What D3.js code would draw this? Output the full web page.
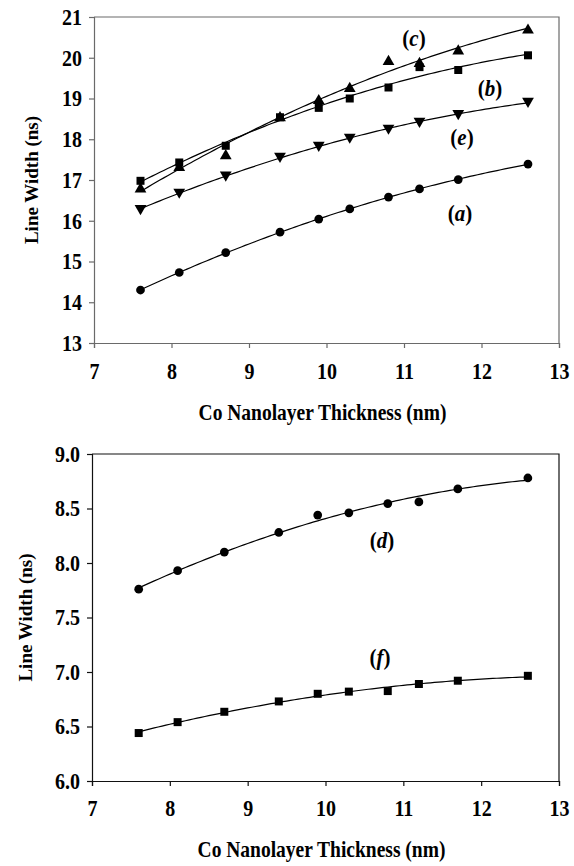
<!DOCTYPE html>
<html>
<head>
<meta charset="utf-8">
<script src="https://cdn.jsdelivr.net/npm/d3@7"></script>
<style>
  html, body { margin: 0; padding: 0; background: #fff; }
  svg { display: block; }
  svg text { font-family: "Liberation Serif", Tinos, "DejaVu Serif", "Noto Serif", FreeSerif, "Times New Roman", Times, serif !important; }
</style>
</head>
<body>
<svg id="chart" width="574" height="866"></svg>
<script>
// ---------------- data ----------------
const thickness = [7.6, 8.1, 8.7, 9.4, 9.9, 10.3, 10.8, 11.2, 11.7, 12.6];
const seriesA = [14.30, 14.73, 15.22, 15.72, 16.04, 16.29, 16.58, 16.78, 17.01, 17.39];
const seriesB = [16.98, 17.43, 17.84, 18.54, 18.77, 19.00, 19.27, 19.77, 19.70, 20.06];
const seriesC = [16.80, 17.33, 17.62, 18.55, 18.97, 19.27, 19.93, 19.88, 20.19, 20.70];
const seriesE = [16.28, 16.68, 17.10, 17.56, 17.83, 18.03, 18.25, 18.42, 18.61, 18.91];
const seriesD = [7.76, 7.93, 8.10, 8.28, 8.44, 8.46, 8.545, 8.56, 8.68, 8.78];
const seriesF = [6.44, 6.54, 6.635, 6.73, 6.80, 6.82, 6.825, 6.89, 6.92, 6.965];
const xTicks = [7, 8, 9, 10, 11, 12, 13];
const yTicksTop = [13, 14, 15, 16, 17, 18, 19, 20, 21];
const yTicksBottom = [6.0, 6.5, 7.0, 7.5, 8.0, 8.5, 9.0];
const xTitle = "Co Nanolayer Thickness (nm)";
const yTitle = "Line Width (ns)";

const svg = d3.select("#chart");
const FONT = '"Liberation Serif", Tinos, "DejaVu Serif", "Noto Serif", FreeSerif, "Times New Roman", Times, serif';
const TICK_FS = 20, TITLE_FS = 19.5, YTITLE_FS = 19, LABEL_FS = 21;
const STRETCH = 1.13;

// quadratic least squares fit
function quadFit(xs, ys) {
  let n = xs.length, s = [0,0,0,0,0], t = [0,0,0];
  for (let i = 0; i < n; i++) {
    let x = xs[i], y = ys[i];
    for (let k = 0; k < 5; k++) s[k] += Math.pow(x, k);
    for (let k = 0; k < 3; k++) t[k] += y * Math.pow(x, k);
  }
  const M = [[s[0], s[1], s[2], t[0]], [s[1], s[2], s[3], t[1]], [s[2], s[3], s[4], t[2]]];
  for (let i = 0; i < 3; i++) {
    for (let j = i + 1; j < 3; j++) {
      const f = M[j][i] / M[i][i];
      for (let k = i; k < 4; k++) M[j][k] -= f * M[i][k];
    }
  }
  const c = [0,0,0];
  for (let i = 2; i >= 0; i--) {
    let v = M[i][3];
    for (let k = i + 1; k < 3; k++) v -= M[i][k] * c[k];
    c[i] = v / M[i][i];
  }
  return x => c[0] + c[1] * x + c[2] * x * x;
}

function drawPanel(cfg) {
  const x = d3.scaleLinear().domain([7, 13]).range([cfg.left, cfg.right]);
  const y = d3.scaleLinear().domain(cfg.yDomain).range([cfg.bottom, cfg.top]);
  const g = svg.append("g").attr("font-family", FONT);

  // frame (top & right)
  g.append("path")
    .attr("d", `M${cfg.left},${cfg.top}H${cfg.right}V${cfg.bottom}`)
    .attr("fill", "none").attr("stroke", cfg.frameColor).attr("stroke-width", 1.2);

  // x axis
  const xa = g.append("g").attr("transform", `translate(0,${cfg.bottom})`)
    .call(d3.axisBottom(x).tickValues(xTicks).tickSize(5).tickPadding(0).tickFormat(d3.format("d")))
    .attr("font-family", FONT);
  xa.select(".domain").attr("stroke", cfg.frameColor).attr("stroke-width", 1.2);
  xa.selectAll(".tick line").attr("stroke", cfg.frameColor).attr("stroke-width", 1.2);
  xa.selectAll(".tick text")
    .attr("font-size", TICK_FS).attr("font-weight", "bold").attr("fill", "#000")
    .attr("y", 0).attr("dy", null)
    .attr("transform", `translate(0,${cfg.xLabelBase}) scale(1,${STRETCH})`);

  // y axis
  const ya = g.append("g").attr("transform", `translate(${cfg.left},0)`)
    .call(d3.axisLeft(y).tickValues(cfg.yTicks).tickSize(5).tickPadding(0).tickFormat(d3.format(cfg.yFormat)))
    .attr("font-family", FONT);
  ya.select(".domain").attr("stroke", cfg.frameColor).attr("stroke-width", 1.2);
  ya.selectAll(".tick line").attr("stroke", cfg.frameColor).attr("stroke-width", 1.2);
  ya.selectAll(".tick text")
    .attr("font-size", TICK_FS).attr("font-weight", "bold").attr("fill", "#000")
    .attr("x", 0).attr("dy", null).attr("y", 0)
    .attr("dominant-baseline", "central")
    .attr("transform", `translate(${-cfg.yLabelGap},0) scale(1,${STRETCH})`);

  // titles
  g.append("text")
    .attr("transform", `translate(${(cfg.left + cfg.right) / 2 + cfg.xTitleShift},${cfg.xTitleBase}) scale(1,${STRETCH})`)
    .attr("text-anchor", "middle").attr("font-size", TITLE_FS).attr("font-weight", "bold")
    .text(xTitle);
  g.append("text")
    .attr("transform", `translate(${cfg.yTitleX},${(cfg.top + cfg.bottom) / 2}) rotate(-90)`)
    .attr("text-anchor", "middle").attr("dominant-baseline", "central")
    .attr("font-size", YTITLE_FS).attr("font-weight", "bold")
    .text(yTitle);

  // series
  const line = d3.line().x(d => x(d[0])).y(d => y(d[1]));
  cfg.series.forEach(s => {
    const fit = quadFit(thickness, s.values);
    const pts = d3.range(0, 101).map(i => {
      const t = thickness[0] + (thickness[thickness.length - 1] - thickness[0]) * i / 100;
      return [t, fit(t)];
    });
    g.append("path").attr("d", line(pts)).attr("fill", "none")
      .attr("stroke", "#000").attr("stroke-width", 1.2);
  });
  cfg.series.forEach(s => {
    const sym = d3.symbol().type(s.symbol).size(s.size);
    g.selectAll(null).data(thickness.map((t, i) => [t, s.values[i]])).join("path")
      .attr("d", sym)
      .attr("transform", d => `translate(${x(d[0])},${y(d[1]) + (s.dy || 0)})${s.rotate ? " rotate(" + s.rotate + ")" : ""}`)
      .attr("fill", "#000");
  });
  cfg.series.forEach(s => {
    const tx = g.append("text")
      .attr("transform", `translate(${s.label[0]},${s.label[1]}) scale(1,${STRETCH})`)
      .attr("text-anchor", "middle").attr("dominant-baseline", "central")
      .attr("font-size", LABEL_FS).attr("font-weight", "bold");
    tx.append("tspan").text("(");
    tx.append("tspan").attr("font-style", "italic").text(s.name);
    tx.append("tspan").text(")");
  });
}

drawPanel({
  left: 94, right: 559, top: 17, bottom: 343,
  yDomain: [13, 21], yTicks: yTicksTop, yFormat: "d",
  frameColor: "#6a6a6a",
  xLabelBase: 36, yLabelGap: 12, xTitleBase: 420, xTitleShift: -4, yTitleX: 31,
  series: [
    { name: "a", values: seriesA, symbol: d3.symbolCircle, size: 60, label: [460, 213] },
    { name: "b", values: seriesB, symbol: d3.symbolSquare, size: 64, label: [490, 88] },
    { name: "c", values: seriesC, symbol: d3.symbolTriangle, size: 60, dy: 1, label: [414, 38] },
    { name: "e", values: seriesE, symbol: d3.symbolTriangle, size: 60, rotate: 180, dy: -1, label: [462, 137] }
  ]
});

drawPanel({
  left: 92, right: 559, top: 454, bottom: 781,
  yDomain: [6, 9], yTicks: yTicksBottom, yFormat: ".1f",
  frameColor: "#111",
  xLabelBase: 35, yLabelGap: 12, xTitleBase: 857, xTitleShift: -4, yTitleX: 25,
  series: [
    { name: "d", values: seriesD, symbol: d3.symbolCircle, size: 60, label: [382, 540] },
    { name: "f", values: seriesF, symbol: d3.symbolSquare, size: 64, label: [380, 657] }
  ]
});
</script>
</body>
</html>
